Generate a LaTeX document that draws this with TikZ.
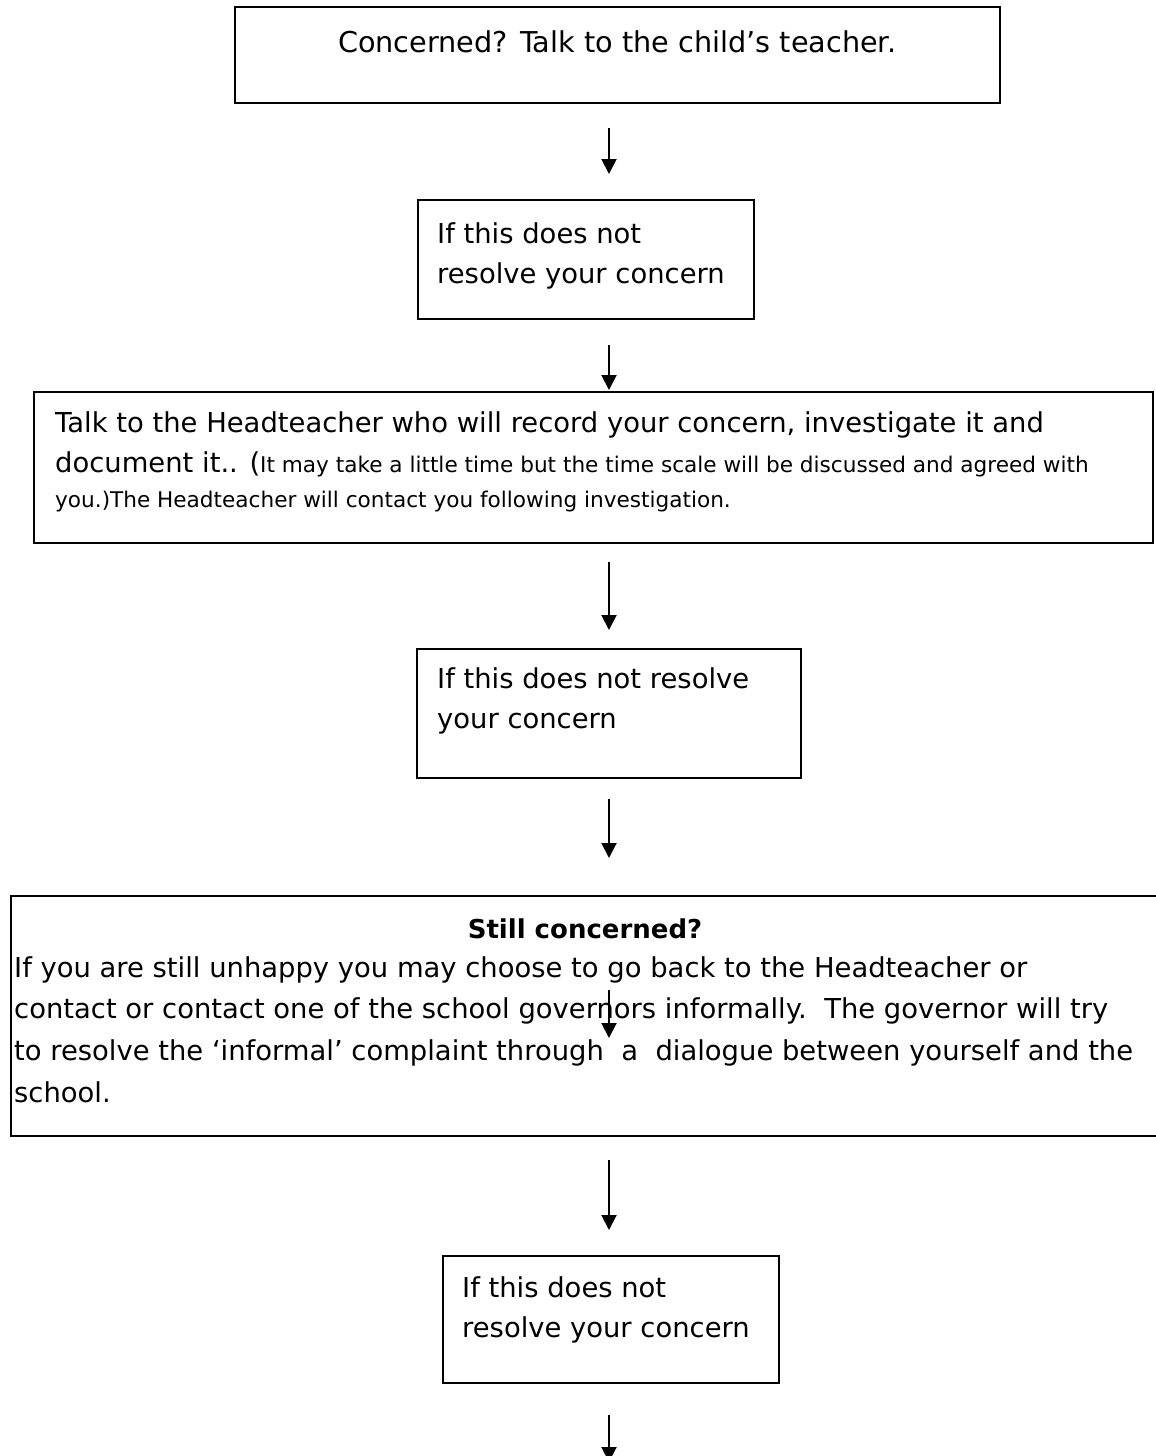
\documentclass[tikz,border=0pt]{standalone}
\usepackage{fontspec}
\setmainfont{DejaVu Sans}
\usetikzlibrary{arrows.meta}
\newcommand{\bigfs}{\fontsize{27.4}{40}\selectfont}
\newcommand{\topfs}{\fontsize{28.7}{40}\selectfont}
\newcommand{\titlefs}{\fontsize{26}{40}\selectfont}
\newcommand{\smallfs}{\fontsize{21.6}{30}\selectfont}
\begin{document}
\begin{tikzpicture}[x=1pt,y=-1pt,
  box/.style={draw, line width=2pt, inner sep=0pt, anchor=north west},
  txt/.style={anchor=base west, inner sep=0pt, font=\bigfs},
  arr/.style={line width=2pt, -{Triangle[length=15pt,width=15pt]}}]
\useasboundingbox (0,0) rectangle (1156,1456);
\coordinate (ax) at (609,0);
% boxes
\node[box, minimum width=765pt, minimum height=96pt] (b1) at (234,6) {};
\node[box, minimum width=336pt, minimum height=119pt] (b2) at (417,199) {};
\node[box, minimum width=1119pt, minimum height=151pt] (b3) at (33,391) {};
\node[box, minimum width=384pt, minimum height=129pt] (b4) at (416,648) {};
\node[box, minimum width=1160pt, minimum height=240pt] (b5) at (10,895) {};
\node[box, minimum width=336pt, minimum height=127pt] (b6) at (442,1255) {};
% texts
\node[txt, anchor=base west, font=\topfs] (t1) at (338,52) {Concerned? Talk to the child’s teacher.};
\node[txt] (t2a) at (437,243) {If this does not};
\node[txt] (t2b) at (437,283) {resolve your concern};
\node[txt] (t3a) at (55,432) {Talk to the Headteacher who will record your concern, investigate it and};
\node[txt] (t3b) at (55,472) {document it.. ({\smallfs It may take a little time but the time scale will be discussed and agreed with}};
\node[txt, font=\smallfs] (t3c) at (55,507) {you.)The Headteacher will contact you following investigation.};
\node[txt] (t4a) at (437,688) {If this does not resolve};
\node[txt] (t4b) at (437,728) {your concern};
\node[txt, anchor=base, font=\titlefs\bfseries] (t5t) at (585,938) {Still concerned?};
\node[txt] (t5a) at (14,977) {If you are still unhappy you may choose to go back to the Headteacher or};
\node[txt] (t5b) at (14,1018) {contact or contact one of the school governors informally.\ \ The governor will try};
\node[txt] (t5c) at (14,1060) {to resolve the ‘informal’ complaint through\ \ a\ \ dialogue between yourself and the};
\node[txt] (t5d) at (14,1102) {school.};
\node[txt] (t6a) at (462,1297) {If this does not};
\node[txt] (t6b) at (462,1337) {resolve your concern};
% arrows
\draw[arr, shorten <=24pt, shorten >=25pt] (b1.south -| ax) -- (b2.north -| ax);
\draw[arr, shorten <=25pt, shorten >=1pt] (b2.south -| ax) -- (b3.north -| ax);
\draw[arr, shorten <=18pt, shorten >=18pt] (b3.south -| ax) -- (b4.north -| ax);
\draw[arr, shorten <=20pt, shorten >=37pt] (b4.south -| ax) -- (b5.north -| ax);
\coordinate (m1) at (609,990);
\coordinate (m2) at (609,1038);
\draw[arr] (m1) -- (m2);
\draw[arr, shorten <=23pt, shorten >=25pt] (b5.south -| ax) -- (b6.north -| ax);
\coordinate (endc) at (609,1462);
\draw[arr, shorten <=31pt] (b6.south -| ax) -- (endc);
\end{tikzpicture}
\end{document}
